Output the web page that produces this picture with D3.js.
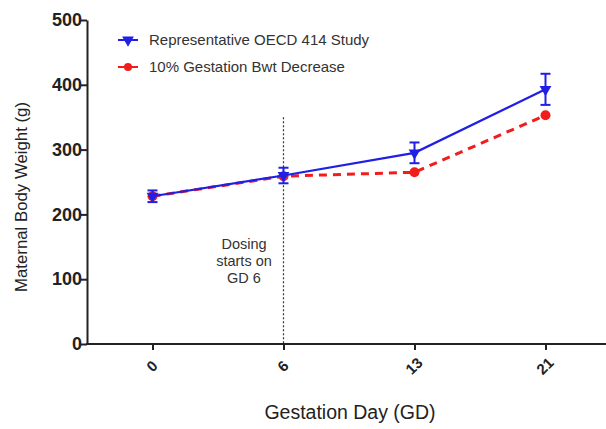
<!DOCTYPE html>
<html>
<head>
<meta charset="utf-8">
<script src="https://cdn.jsdelivr.net/npm/d3@7"></script>
<style>
  body { margin: 0; background: #fff; }
  text { font-family: "Liberation Sans", Arial, sans-serif; }
</style>
</head>
<body>
<div id="vis"></div>
<script>
// gestation days and series values (g)
const days = ['0', '6', '13', '21'];
const oecdMean = [228, 260, 295, 393];
const oecdErr = [9, 12, 16, 24];
const decreaseMean = [228, 259, 265, 353];
const yTicks = [0, 100, 200, 300, 400, 500];
const dosingDay = '6';
const dosingTop = 350;

const width = 606, height = 429;
const svg = d3.select('#vis').append('svg')
  .attr('width', width).attr('height', height);

const x = d3.scalePoint().domain(days).range([87, 611]).padding(0.5);
const y = d3.scaleLinear().domain([0, 500]).range([344, 20]);

const blue = '#1f1fe6', red = '#f21c1c';

// y axis
const yAxis = svg.append('g').attr('transform', 'translate(87,0)')
  .call(d3.axisLeft(y).tickValues(yTicks).tickSize(6).tickSizeOuter(0));
yAxis.select('.domain').attr('stroke', '#222').attr('stroke-width', 2);
yAxis.selectAll('.tick line').attr('stroke', '#222').attr('stroke-width', 2);
yAxis.selectAll('.tick text').attr('font-size', 18).attr('font-weight', 'bold')
  .attr('fill', '#222').attr('x', -5);

// x axis
const xAxis = svg.append('g').attr('transform', 'translate(0,344)')
  .call(d3.axisBottom(x).tickSize(6).tickSizeOuter(0));
xAxis.select('.domain').attr('stroke', '#222').attr('stroke-width', 2)
  .attr('d', 'M86,0H611');
xAxis.selectAll('.tick line').attr('stroke', '#222').attr('stroke-width', 2);
xAxis.selectAll('.tick text')
  .attr('font-size', 15).attr('font-weight', 'bold').attr('fill', '#222')
  .attr('text-anchor', 'middle')
  .attr('y', 0).attr('dy', '0.35em')
  .attr('transform', 'translate(-1,22) rotate(-45)');

// axis titles
svg.append('text')
  .attr('transform', 'translate(27,197) rotate(-90)')
  .attr('text-anchor', 'middle').attr('font-size', 16.8).attr('fill', '#222')
  .text('Maternal Body Weight  (g)');
svg.append('text')
  .attr('x', 350).attr('y', 419)
  .attr('text-anchor', 'middle').attr('font-size', 19.5).attr('fill', '#222')
  .text('Gestation Day (GD)');

// dosing line + annotation
svg.append('line')
  .attr('x1', x(dosingDay)).attr('x2', x(dosingDay))
  .attr('y1', y(dosingTop)).attr('y2', y(0))
  .attr('stroke', '#333').attr('stroke-width', 1.2)
  .attr('stroke-dasharray', '2,2');
const note = svg.append('text')
  .attr('x', 244).attr('y', 249)
  .attr('text-anchor', 'middle').attr('font-size', 14.5).attr('fill', '#333');
['Dosing', 'starts on', 'GD 6'].forEach((t, i) => {
  note.append('tspan').attr('x', 244).attr('dy', i ? 17 : 0).text(t);
});

// red dashed series
const seriesLine = d3.line().x((d, i) => x(days[i])).y(d => y(d));
svg.append('path').datum(decreaseMean)
  .attr('d', seriesLine).attr('fill', 'none')
  .attr('stroke', red).attr('stroke-width', 3)
  .attr('stroke-dasharray', '8,6');
svg.selectAll('circle.red').data(decreaseMean).join('circle')
  .attr('class', 'red')
  .attr('cx', (d, i) => x(days[i])).attr('cy', d => y(d))
  .attr('r', 5).attr('fill', red);

// blue series with error bars
svg.append('path').datum(oecdMean)
  .attr('d', seriesLine).attr('fill', 'none')
  .attr('stroke', blue).attr('stroke-width', 2.2);
const eb = svg.selectAll('g.err').data(oecdMean).join('g').attr('class', 'err');
eb.append('line')
  .attr('x1', (d, i) => x(days[i])).attr('x2', (d, i) => x(days[i]))
  .attr('y1', (d, i) => y(d + oecdErr[i])).attr('y2', (d, i) => y(d - oecdErr[i]))
  .attr('stroke', blue).attr('stroke-width', 2);
[1, -1].forEach(s => {
  eb.append('line')
    .attr('x1', (d, i) => x(days[i]) - 5).attr('x2', (d, i) => x(days[i]) + 5)
    .attr('y1', (d, i) => y(d + s * oecdErr[i])).attr('y2', (d, i) => y(d + s * oecdErr[i]))
    .attr('stroke', blue).attr('stroke-width', 2);
});
const tri = d3.symbol().type(d3.symbolTriangle).size(60);
svg.selectAll('path.blue').data(oecdMean).join('path')
  .attr('class', 'blue')
  .attr('d', tri)
  .attr('transform', (d, i) => `translate(${x(days[i])},${y(d)}) rotate(180)`)
  .attr('fill', blue);

// legend
const legend = [
  { label: 'Representative OECD 414 Study', color: blue, mark: 'tri' },
  { label: '10% Gestation Bwt Decrease', color: red, mark: 'circle' }
];
const lg = svg.selectAll('g.legend').data(legend).join('g')
  .attr('class', 'legend')
  .attr('transform', (d, i) => `translate(118,${40 + i * 27})`);
lg.append('line').attr('x1', 0).attr('x2', 20)
  .attr('stroke', d => d.color).attr('stroke-width', 2);
lg.append('path')
  .attr('d', d => d.mark === 'tri' ? tri() : d3.symbol().type(d3.symbolCircle).size(50)())
  .attr('transform', d => d.mark === 'tri' ? 'translate(10,0) rotate(180)' : 'translate(10,0)')
  .attr('fill', d => d.color);
lg.append('text').attr('x', 31).attr('dy', '0.35em')
  .attr('font-size', 15).attr('fill', '#333')
  .text(d => d.label);
</script>
</body>
</html>
